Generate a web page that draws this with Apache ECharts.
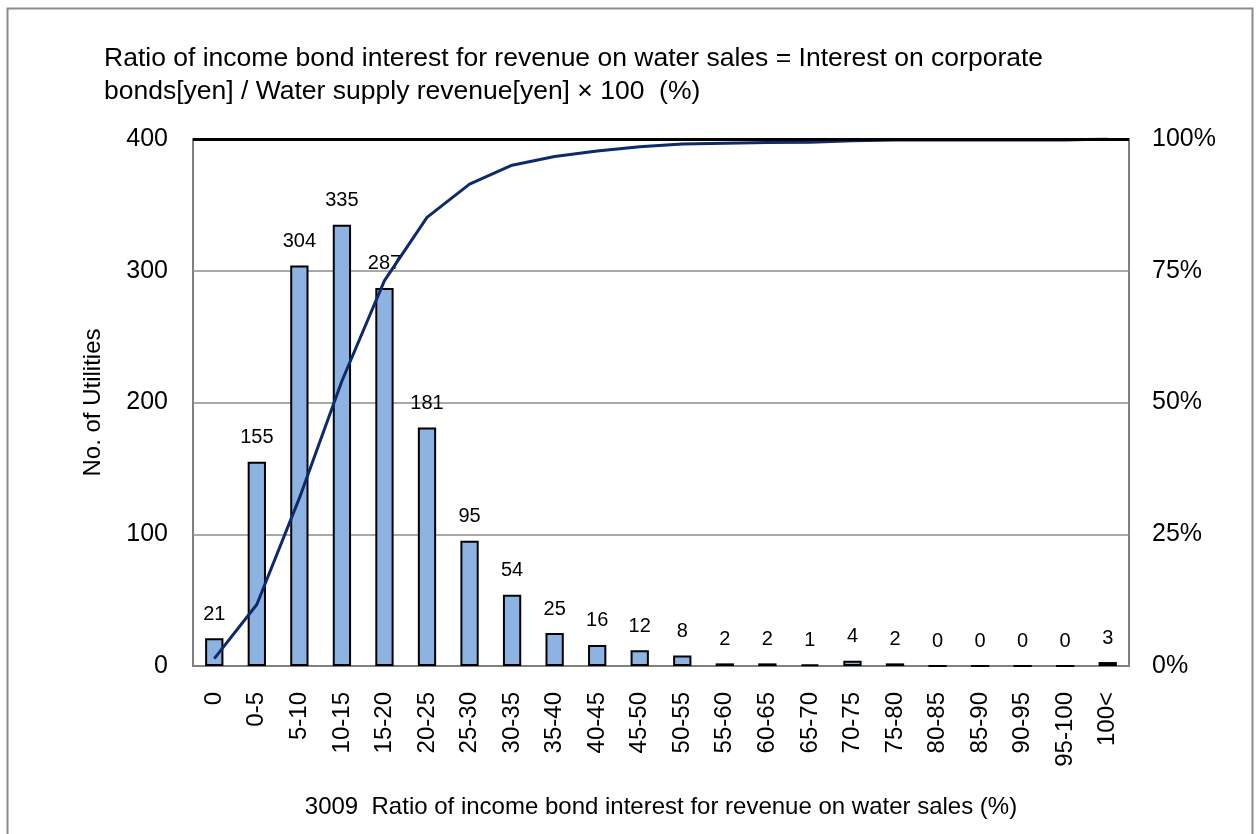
<!DOCTYPE html>
<html>
<head>
<meta charset="utf-8">
<script src="https://cdn.jsdelivr.net/npm/echarts@6/dist/echarts.min.js"></script>
<style>
  html, body { margin: 0; padding: 0; background: #fff; }
  #chart { width: 1257px; height: 834px; }
</style>
</head>
<body>
<div id="chart"></div>
<script>
// ratio classes (%)
const categories = ['0', '0-5', '5-10', '10-15', '15-20', '20-25', '25-30', '30-35', '35-40', '40-45',
  '45-50', '50-55', '55-60', '60-65', '65-70', '70-75', '75-80', '80-85', '85-90', '90-95', '95-100', '100<'];
// number of utilities per class
const counts = [21, 155, 304, 335, 287, 181, 95, 54, 25, 16, 12, 8, 2, 2, 1, 4, 2, 0, 0, 0, 0, 3];
const leftTicks = [0, 100, 200, 300, 400];

// cumulative share (0..1) for the line
const total = counts.reduce((a, b) => a + b, 0);
let run = 0;
const cumulative = counts.map(c => { run += c; return run / total; });

const FONT = 'Liberation Sans, Arial, sans-serif';

const chart = echarts.init(document.getElementById('chart'));

chart.setOption({
  animation: false,
  backgroundColor: '#fff',
  title: {
    text: 'Ratio of income bond interest for revenue on water sales = Interest on corporate\nbonds[yen] / Water supply revenue[yen] \u00d7 100  (%)',
    left: 99,
    top: 37,
    textStyle: { fontFamily: FONT, fontSize: 26.5, fontWeight: 'normal', color: '#000', lineHeight: 33 }
  },
  graphic: [{
    type: 'rect',
    left: 5, top: 6,
    shape: { width: 1245, height: 840 },
    style: { fill: 'none', stroke: '#8c8c8c', lineWidth: 2 },
    silent: true
  }],
  grid: {
    left: 193, right: 128, top: 139, bottom: 168,
    show: true, borderColor: '#808080', borderWidth: 2
  },
  xAxis: {
    type: 'category',
    data: categories,
    name: '3009  Ratio of income bond interest for revenue on water sales (%)',
    nameLocation: 'middle',
    nameGap: 129,
    nameTextStyle: { fontFamily: FONT, fontSize: 24, color: '#000' },
    axisLine: { lineStyle: { color: '#808080', width: 2 } },
    axisTick: { show: false },
    axisLabel: { rotate: 90, margin: 26, interval: 0, fontFamily: FONT, fontSize: 24, color: '#000' }
  },
  yAxis: [{
    type: 'value',
    min: 0, max: 400, interval: 100,
    name: 'No. of Utilities',
    nameLocation: 'middle',
    nameGap: 88,
    nameTextStyle: { fontFamily: FONT, fontSize: 24, color: '#000' },
    axisLine: { show: false },
    axisTick: { show: false },
    splitLine: { lineStyle: { color: '#8c8c8c', width: 1.5 } },
    axisLabel: {
      margin: 25, fontFamily: FONT, fontSize: 25, color: '#000',
      formatter: v => leftTicks.includes(v) ? String(v) : ''
    }
  }, {
    type: 'value',
    min: 0, max: 1, interval: 0.25,
    position: 'right',
    axisLine: { show: false },
    axisTick: { show: false },
    splitLine: { show: false },
    axisLabel: {
      margin: 23, fontFamily: FONT, fontSize: 25, color: '#000',
      formatter: v => Math.round(v * 100) + '%'
    }
  }],
  series: [{
    name: 'No. of Utilities',
    type: 'bar',
    data: counts,
    barWidth: '43%',
    itemStyle: { color: '#8db3e2', borderColor: '#000', borderWidth: 2 },
    label: {
      show: true, position: 'top', distance: 14,
      fontFamily: FONT, fontSize: 20, color: '#000'
    },
    markLine: {
      silent: true, symbol: 'none', label: { show: false },
      lineStyle: { color: '#000', width: 3, type: 'solid' },
      data: [{ yAxis: 400 }]
    },
    z: 2
  }, {
    name: 'Cumulative',
    type: 'line',
    yAxisIndex: 1,
    data: cumulative,
    symbol: 'none',
    lineStyle: { color: '#0d2a6b', width: 3 },
    z: 3
  }]
});
</script>
</body>
</html>
